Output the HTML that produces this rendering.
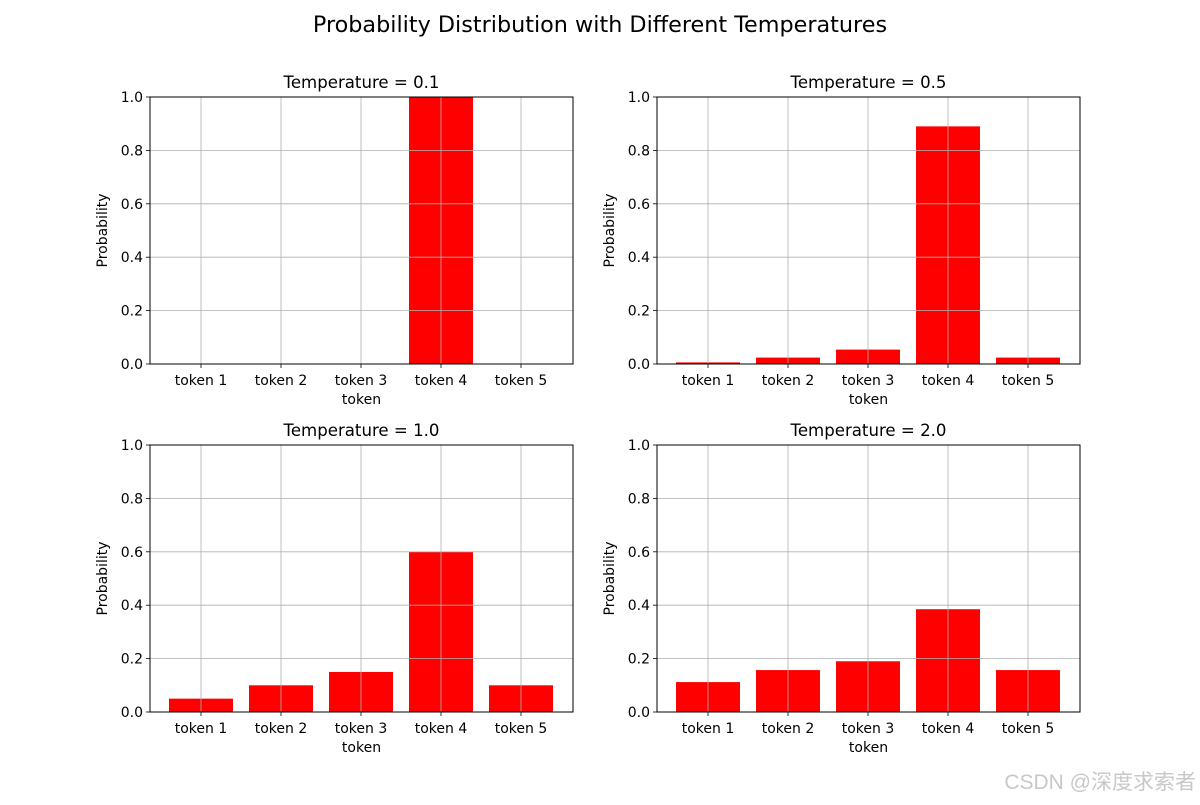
<!DOCTYPE html>
<html><head><meta charset="utf-8"><style>
body{margin:0;background:#fff;}
svg{font-family:"DejaVu Sans","Liberation Sans",sans-serif;}
</style></head><body>
<svg id="c" width="1200" height="800">
<text x="600" y="32" text-anchor="middle" font-size="22.3">Probability Distribution with Different Temperatures</text>
<text x="1196" y="789" text-anchor="end" font-size="21" fill="#c8c8c8" font-family="'Liberation Sans','Noto Sans CJK SC',sans-serif">CSDN @深度求索者</text>
</svg>
<script>
const categories = ["token 1","token 2","token 3","token 4","token 5"];
const temps = ["0.1","0.5","1.0","2.0"];
const valuesT01 = [0.0, 0.0, 0.0, 1.0, 0.0];
const valuesT05 = [0.006, 0.024, 0.054, 0.89, 0.024];
const valuesT10 = [0.05, 0.1, 0.15, 0.6, 0.1];
const valuesT20 = [0.112, 0.157, 0.19, 0.385, 0.157];
const yTicks = [0, 0.2, 0.4, 0.6, 0.8, 1.0];
const yTickLabels = ["0.0","0.2","0.4","0.6","0.8","1.0"];
const series = [valuesT01, valuesT05, valuesT10, valuesT20];

const svg = document.getElementById('c');
const NS = 'http://www.w3.org/2000/svg';
function mk(tag, attrs, parent){const e=document.createElementNS(NS,tag);for(const k in attrs)e.setAttribute(k,attrs[k]);(parent||svg).appendChild(e);return e;}
const panels = [{x0:150,y0:97},{x0:657,y0:97},{x0:150,y0:445},{x0:657,y0:445}];
const W=423,H=267;
panels.forEach((p,i)=>{
  const g=mk('g',{});
  
  
  const xs = k => p.x0 + 51 + k*80;
  const ys = v => p.y0 + H - v*H;
  const vals=series[i];
  vals.forEach((v,k)=>{
    const r=mk('rect',{x:xs(k)-32,y:ys(v),width:64,height:ys(0)-ys(v),fill:'#ff0000'},g);
    
    
  });
  yTicks.forEach((t,k)=>{
    const y=ys(t);
    mk('line',{x1:p.x0,x2:p.x0+W,y1:y,y2:y,stroke:'#b0b0b0','stroke-width':0.8},g);
    mk('line',{x1:p.x0-4,x2:p.x0,y1:y,y2:y,stroke:'#000','stroke-width':0.8},g);
    const tx=mk('text',{x:p.x0-7,y:y+5,'text-anchor':'end','font-size':14},g);
    tx.textContent=yTickLabels[k];
    
    
  });
  categories.forEach((c,k)=>{
    const x=xs(k);
    mk('line',{x1:x,x2:x,y1:p.y0,y2:p.y0+H,stroke:'#b0b0b0','stroke-width':0.8},g);
    mk('line',{x1:x,x2:x,y1:p.y0+H,y2:p.y0+H+4,stroke:'#000','stroke-width':0.8},g);
    const tx=mk('text',{x:x,y:p.y0+H+21,'text-anchor':'middle','font-size':14},g);
    tx.textContent=c;
    
    
  });
  mk('rect',{x:p.x0,y:p.y0,width:W,height:H,fill:'none',stroke:'#000','stroke-width':1},g);
  const t=mk('text',{x:p.x0+W/2,y:p.y0-9,'text-anchor':'middle','font-size':16.6},g);
  t.textContent='Temperature = '+temps[i];
  
  
  const xl=mk('text',{x:p.x0+W/2,y:p.y0+H+40,'text-anchor':'middle','font-size':14},g);
  xl.textContent='token';
  
  
  const yl=mk('text',{x:0,y:0,'text-anchor':'middle','font-size':14,transform:`translate(${p.x0-43},${p.y0+H/2}) rotate(-90)`},g);
  yl.textContent='Probability';
  
  
});
</script>
</body></html>
